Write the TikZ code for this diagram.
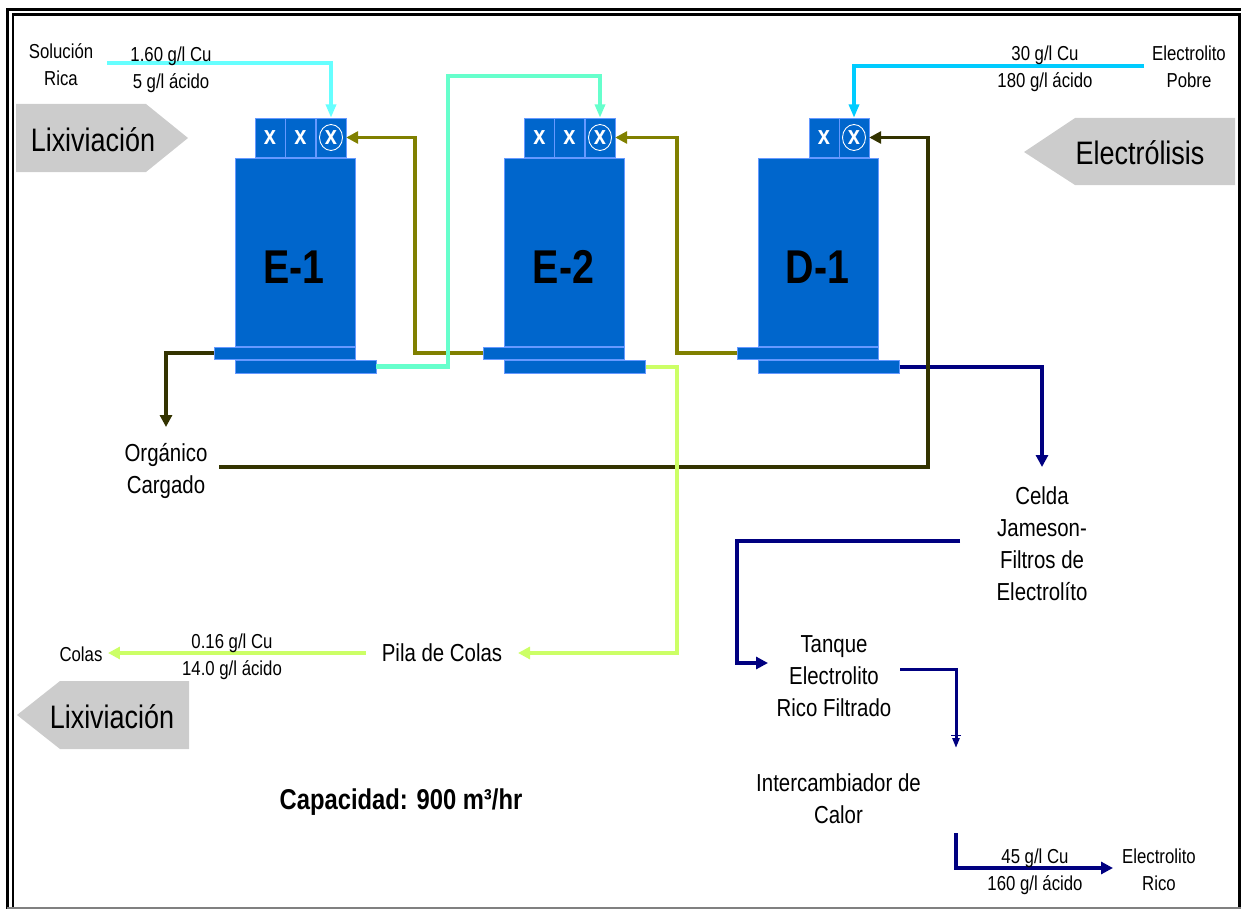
\documentclass[tikz,border=0pt]{standalone}
\usepackage{fontspec}
\setmainfont[FakeStretch=0.83]{Liberation Sans}
\usetikzlibrary{arrows.meta,calc}

\definecolor{unitblue}{HTML}{0066CC}
\definecolor{edgeblue}{HTML}{6699FF}
\definecolor{arrowgray}{HTML}{CCCCCC}
\definecolor{richcyan}{HTML}{66FFFF}
\definecolor{aquaflow}{HTML}{66FFCC}
\definecolor{poorcyan}{HTML}{00CCFF}
\definecolor{oliveflow}{HTML}{808000}
\definecolor{darkflow}{HTML}{333300}
\definecolor{limeflow}{HTML}{CCFF66}
\definecolor{navyflow}{HTML}{000080}

\begin{document}
\begin{tikzpicture}[
    x=0.02cm,y=-0.02cm,
    unitbox/.style={draw=edgeblue,line width=0.2pt,fill=unitblue,inner sep=0pt},
    bodybox/.style={unitbox,minimum width=2.4cm,minimum height=3.76cm},
    midbar/.style={unitbox,minimum width=2.82cm,minimum height=0.24cm},
    lowbar/.style={unitbox,minimum width=2.82cm,minimum height=0.26cm},
    mixer/.style={unitbox,minimum width=0.6cm,minimum height=0.78cm,text=white,
        font=\fontsize{15}{15}\selectfont\bfseries},
    mixerc/.style={mixer,path picture={\draw[white,line width=0.5pt]
        (path picture bounding box.center) ellipse (0.23cm and 0.26cm);}},
    flow/.style={line width=0.08cm,-{Triangle[length=0.24cm,width=0.24cm]}},
    wideflow/.style={line width=0.09cm,-{Triangle[length=0.27cm,width=0.2cm]}},
    lbl/.style={align=center,inner sep=0pt,font=\fontsize{11.5}{15.4}\selectfont},
    lblb/.style={align=center,inner sep=0pt,font=\fontsize{14}{18.2}\selectfont},
    unitname/.style={inner sep=0pt,font=\fontsize{27}{27}\selectfont\bfseries},
    areatext/.style={inner sep=0pt,font=\fontsize{18.5}{18.5}\selectfont},
    areashape/.style={fill=arrowgray}
]
    \useasboundingbox (0,0) rectangle (1241,909);

    % Frame
    \draw[line width=0.07cm] (1241,9.5) -- (7.5,9.5) -- (7.5,909);
    \draw[line width=0.05cm] (1241,14.5) -- (13,14.5) -- (13,907);
    \draw[line width=0.05cm] (1239.5,14.5) -- (1239.5,907);
    \draw[gray,line width=0.03cm] (7,908) -- (1241,908);

    % Gray pointers
    \fill[areashape] (16,104) -- (146,104) -- (188,138) -- (146,172) -- (16,172) -- cycle;
    \fill[areashape] (1024,152) -- (1075,118) -- (1235,118) -- (1235,185) -- (1075,185) -- cycle;
    \fill[areashape] (17,715) -- (60,681) -- (189,681) -- (189,749) -- (60,749) -- cycle;
    \node[areatext] (areaA) at (93,140) {Lixiviación};
    \node[areatext] (areaB) at (1140,152.5) {Electrólisis};
    \node[areatext] (areaC) at (112,717) {Lixiviación};

    % Settlers
    \foreach \nm/\x/\t in {e1/295/E-1,e2/564.5/E-2,d1/818.5/D-1} {
        \node[bodybox] (\nm body) at (\x,252) {};
        \node[midbar] (\nm mid) at ({\x-10.5},353) {};
        \node[lowbar] (\nm low) at ({\x+10.5},366.5) {};
        \node[unitname] (\nm name) at ({\x-1},267) {\t};
    }

    % Mixers
    \foreach \nm/\x in {e1a/270,e1b/300.5,e2a/539.5,e2b/569.5,d1a/824} {
        \node[mixer] (\nm) at (\x,137.5) {x};
    }
    \foreach \nm/\x in {e1c/331,e2c/600,d1c/854} {
        \node[mixerc] (\nm) at (\x,137.5) {x};
    }

    % Free ends
    \coordinate (richin) at (107,63);
    \coordinate (poorin) at (1144,66);
    \coordinate (orgout) at (166,427);
    \coordinate (orgin) at (219,467);
    \coordinate (pilain) at (518,653);
    \coordinate (pilaout) at (366,653);
    \coordinate (colasin) at (108,653);
    \coordinate (celdain) at (1042,467);
    \coordinate (celdaout) at (960,541);
    \coordinate (tankin) at (768,663);
    \coordinate (tankout) at (900,669);
    \coordinate (hxin) at (956,748);
    \coordinate (hxout) at (956,833);
    \coordinate (richout) at (1113,868);

    % Electrolyte
    \draw[flow,navyflow] (d1low.east) -| (celdain);
    \draw[flow,navyflow] (celdaout) -| (737,600) |- (tankin);
    \draw[line width=0.06cm,navyflow,-{Bar[width=0.2cm,line width=0.03cm,sep=0.04cm]Triangle[length=0.2cm,width=0.14cm]}] (tankout) -| (hxin);
    \draw[flow,navyflow] (hxout) |- (richout);

    % Organic
    \draw[flow,oliveflow] (e2mid.west) -- (415,353) |- (e1c.east);
    \draw[flow,oliveflow] (d1mid.west) -- (677,353) |- (e2c.east);
    \draw[flow,darkflow] (e1mid.west) -| (orgout);
    \draw[flow,darkflow] (orgin) -| (928,300) |- (d1c.east);

    % Aqueous
    \draw[wideflow,richcyan] (richin) -| (e1c.north);
    \draw[wideflow,aquaflow] (e1low.east) -| (448,76) -| (e2c.north);
    \draw[wideflow,poorcyan] (poorin) -| (d1c.north);
    \draw[flow,limeflow] (e2low.east) -| (677,500) |- (pilain);
    \draw[flow,limeflow] (pilaout) -- (colasin);

    % Labels
    \node[lbl] (rica) at (61,64.5) {Solución\\Rica};
    \node[lbl] (richconc) at (171,69.5) {1.60 g/l Cu\\5 g/l ácido};
    \node[lbl] (pobre) at (1189,67) {Electrolito\\Pobre};
    \node[lbl] (poorconc) at (1045,69) {30 g/l Cu\\180 g/l ácido};
    \node[lblb] (cargado) at (166,471) {Orgánico\\Cargado};
    \node[lblb] (celda) at (1042,543.5) {Celda\\Jameson-\\Filtros de\\Electrolíto};
    \node[lblb] (tanque) at (834,676.5) {Tanque\\Electrolito\\Rico Filtrado};
    \node[lblb] (calor) at (838.5,799) {Intercambiador de\\Calor};
    \node[lblb] (pila) at (442,653) {Pila de Colas};
    \node[lbl] (colas) at (81,654) {Colas};
    \node[lbl] (colasconc) at (232,656.5) {0.16 g/l Cu\\14.0 g/l ácido};
    \node[lbl] (elecconc) at (1035,872) {45 g/l Cu\\160 g/l ácido};
    \node[lbl] (elecrico) at (1159,870) {Electrolito\\Rico};
    \node[inner sep=0pt,font=\fontsize{16.3}{16.3}\selectfont\bfseries] (cap) at (401,802) {Capacidad: 900 m³/hr};
\end{tikzpicture}
\end{document}
